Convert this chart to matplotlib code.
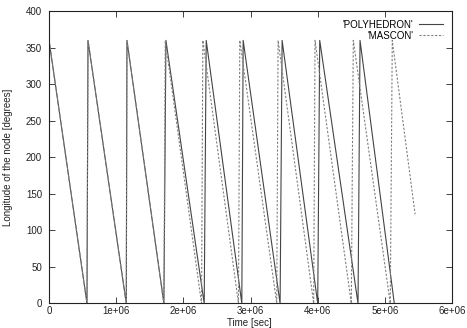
import matplotlib
matplotlib.use("Agg")
import matplotlib.pyplot as plt

# Vertices (time in units of 1e6 s, longitude in degrees)
poly_t = [0.0, 0.565, 0.58, 1.15, 1.16, 1.71, 1.74, 2.31, 2.34, 2.87, 2.89,
          3.44, 3.47, 4.00, 4.03, 4.60, 4.63, 5.14]
poly_v = [360, 0, 360, 0, 360, 0, 360, 0, 360, 0, 360,
          0, 360, 0, 360, 0, 360, 0]

mascon_t = [0.0, 0.565, 0.58, 1.15, 1.16, 1.71, 1.73, 2.27, 2.29, 2.82, 2.84,
            3.39, 3.41, 3.94, 3.96, 4.50, 4.53, 5.08, 5.11, 5.45]
mascon_v = [360, 0, 360, 0, 360, 0, 360, 0, 360, 0, 360,
            0, 360, 0, 360, 0, 360, 0, 360, 122]

x_ticks = [0, 1e6, 2e6, 3e6, 4e6, 5e6, 6e6]
x_labels = ["0", "1e+06", "2e+06", "3e+06", "4e+06", "5e+06", "6e+06"]
y_ticks = [0, 50, 100, 150, 200, 250, 300, 350, 400]

plt.rcParams['font.family'] = ['Liberation Sans', 'DejaVu Sans']
fig = plt.figure(figsize=(4.67, 3.28), dpi=100)
ax = fig.add_axes([0.105, 0.075, 0.863, 0.891])

ax.plot([t * 1e6 for t in poly_t], poly_v, color="#444444", lw=0.8,
        linestyle="-", label="'POLYHEDRON'")
ax.plot([t * 1e6 for t in mascon_t], mascon_v, color="#808080", lw=0.8,
        linestyle=(0, (2, 1.5)), label="'MASCON'")

ax.set_xlim(0, 6e6)
ax.set_ylim(0, 400)
ax.set_xticks(x_ticks)
ax.set_xticklabels(x_labels)
ax.set_yticks(y_ticks)
ax.tick_params(direction="in", length=4, width=0.6, labelsize=7,
               top=True, right=True, pad=2, colors="#222222")
ax.tick_params(axis="y", pad=5)
for s in ax.spines.values():
    s.set_linewidth(0.8)
    s.set_color("#222222")

fig.text(0.535, 0.0, "Time [sec]", fontsize=7, ha="center", va="bottom",
         color="#222222")
ax.set_ylabel("Longitude of the node [degrees]", fontsize=7, labelpad=9,
              color="#222222")

leg = ax.legend(loc="upper right", frameon=False, fontsize=7, markerfirst=False,
                handlelength=2.5, handletextpad=0.6, labelspacing=0.1,
                borderaxespad=0.5)

fig.savefig("out.png", dpi=100)
